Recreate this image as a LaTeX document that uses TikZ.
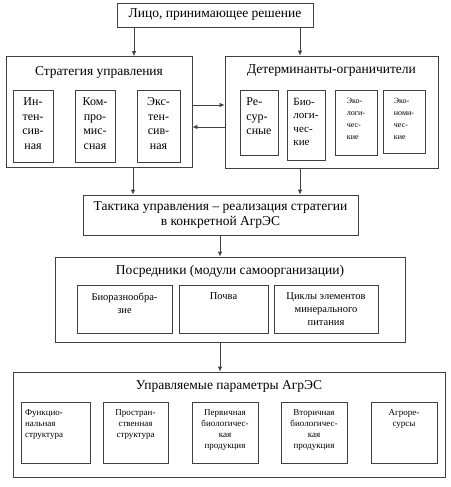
\documentclass[tikz,border=0pt]{standalone}
\usepackage{fontspec}
\setmainfont{Liberation Serif}
\usetikzlibrary{arrows.meta}

\tikzset{
  box/.style={draw=black!75,line width=0.8pt,rectangle,inner sep=0pt},
  sub/.style={box,line width=1pt},
  arr/.style={draw=black!75,line width=0.8pt,-{Latex[length=5pt,width=4.5pt]}},
  ttl/.style={anchor=north,font=\fbig,align=center},
  intxt/.style n args={3}{label={[anchor=north,yshift=-5pt,align=#1,font=#2]north:{#3}}},
}
\newcommand{\fbig}{\fontsize{13.5}{15.5}\selectfont}
\newcommand{\fxii}{\fontsize{12}{14.5}\selectfont}
\newcommand{\fxi}{\fontsize{11}{13.5}\selectfont}
\newcommand{\fx}{\fontsize{10.5}{13}\selectfont}
\newcommand{\fix}{\fontsize{9}{11}\selectfont}
\newcommand{\fviii}{\fontsize{8}{12}\selectfont}

\begin{document}
\begin{tikzpicture}[x=1pt,y=-1pt]
\useasboundingbox (0,0) rectangle (450,487);
% top
\node[box,minimum width=196,minimum height=24,font=\fbig] (lpr) at (215,15) {Лицо, принимающее решение};
% strategy
\node[box,minimum width=186,minimum height=111] (strat) at (99,112) {};
\node[ttl] at ([yshift=-7]strat.north) {Стратегия управления};
\node[sub,minimum width=40,minimum height=72,intxt={center}{\fxii}{Ин-\\тен-\\сив-\\ная}] (int) at (33,126) {};
\node[sub,minimum width=40,minimum height=72,intxt={center}{\fxii}{Ком-\\про-\\мис-\\сная}] (komp) at (95,126) {};
\node[sub,minimum width=43,minimum height=72,intxt={center}{\fxii}{Экс-\\тен-\\сив-\\ная}] (eks) at (158.5,126) {};
% determinants
\node[box,minimum width=213,minimum height=112] (det) at (331.5,112) {};
\node[ttl] at ([yshift=-6]det.north) {Детерминанты-ограничители};
\node[sub,minimum width=38,minimum height=65,intxt={left}{\fxii}{Ре-\\сур-\\сные}] (res) at (259,122.5) {};
\node[sub,minimum width=38,minimum height=70,intxt={left}{\fxi}{Био-\\логи-\\чес-\\кие}] (bio) at (306,125) {};
\node[sub,minimum width=42,minimum height=65,intxt={left}{\fviii}{Эко-\\логи-\\чес-\\кие}] (ekol) at (356,122.5) {};
\node[sub,minimum width=42,minimum height=63,intxt={left}{\fviii}{Эко-\\номи-\\чес-\\кие}] (ekon) at (404,121.5) {};
% tactics
\node[box,minimum width=275,minimum height=40,align=center,font=\fbig] (takt) at (220.5,215) {Тактика управления -- реализация стратегии\\в конкретной АгрЭС};
% mediators
\node[box,minimum width=350,minimum height=85] (posr) at (230,299.5) {};
\node[ttl] at ([yshift=-5]posr.north) {Посредники (модули самоорганизации)};
\node[sub,minimum width=95,minimum height=48,intxt={center}{\fx}{Биоразнообра-\\зие}] (bior) at (124.5,309) {};
\node[sub,minimum width=89,minimum height=48,intxt={center}{\fx}{Почва}] (poch) at (223.5,309) {};
\node[sub,minimum width=104,minimum height=48,intxt={center}{\fx}{Циклы элементов\\минерального\\питания}] (cikl) at (326,309) {};
% parameters
\node[box,minimum width=432,minimum height=105] (upr) at (229,424.5) {};
\node[ttl] at ([yshift=-5]upr.north) {Управляемые параметры АгрЭС};
\node[sub,minimum width=69,minimum height=61,label={[anchor=north west,xshift=1pt,yshift=-5pt,align=left,font=\fix]north west:{Функцио-\\нальная\\структура}}] (funk) at (55.5,432.5) {};
\node[sub,minimum width=65,minimum height=61,intxt={center}{\fix}{Простран-\\ственная\\структура}] (prost) at (135.5,432.5) {};
\node[sub,minimum width=66,minimum height=61,intxt={center}{\fix}{Первичная\\биологичес-\\кая\\продукция}] (perv) at (225,432.5) {};
\node[sub,minimum width=66,minimum height=61,intxt={center}{\fix}{Вторичная\\биологичес-\\кая\\продукция}] (vtor) at (314,432.5) {};
\node[sub,minimum width=66,minimum height=61,intxt={center}{\fix}{Агроре-\\сурсы}] (agro) at (404,432.5) {};
% arrows
\draw[arr] (lpr.south -| 134,0) -- (strat.north -| 134,0);
\draw[arr] (lpr.south -| 300,0) -- (det.north -| 300,0);
\draw[arr] (strat.east |- 0,105) -- (det.west |- 0,105);
\draw[arr] (det.west |- 0,127) -- (strat.east |- 0,127);
\draw[arr] (strat.south -| 133,0) -- (takt.north -| 133,0);
\draw[arr] (det.south -| 300,0) -- (takt.north -| 300,0);
\draw[arr] (takt.south -| 220,0) -- (posr.north -| 220,0);
\draw[arr] (posr.south -| 220,0) -- (upr.north -| 220,0);
\end{tikzpicture}
\end{document}
